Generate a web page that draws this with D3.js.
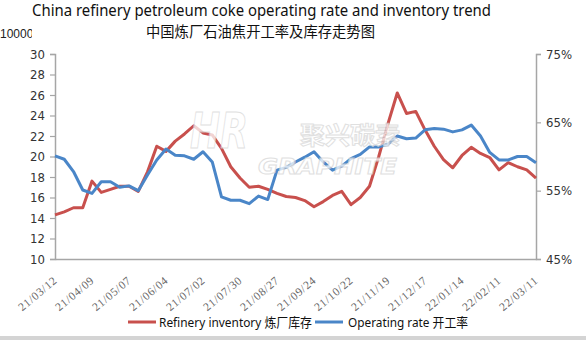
<!DOCTYPE html>
<html>
<head>
<meta charset="utf-8">
<script src="https://cdn.jsdelivr.net/npm/d3@7/dist/d3.min.js"></script>
<style>
  html, body { margin: 0; padding: 0; background: #fff; }
  svg { display: block; }
</style>
</head>
<body>
<svg id="chart" width="586" height="340"></svg>
<script>
// ---- data ----
const dates = [
  "21/03/12","21/03/19","21/03/26","21/04/02","21/04/09","21/04/16","21/04/23","21/04/30",
  "21/05/07","21/05/14","21/05/21","21/05/28","21/06/04","21/06/11","21/06/18","21/06/25",
  "21/07/02","21/07/09","21/07/16","21/07/23","21/07/30","21/08/06","21/08/13","21/08/20",
  "21/08/27","21/09/03","21/09/10","21/09/17","21/09/24","21/10/01","21/10/08","21/10/15",
  "21/10/22","21/10/29","21/11/05","21/11/12","21/11/19","21/11/26","21/12/03","21/12/10",
  "21/12/17","21/12/24","21/12/31","22/01/07","22/01/14","22/01/21","22/01/28","22/02/04",
  "22/02/11","22/02/18","22/02/25","22/03/04","22/03/11"
];
// Refinery inventory (10000 t), left axis
const inventory = [
  14.3, 14.6, 15.0, 15.0, 17.6, 16.5, 16.8, 17.1,
  17.1, 16.6, 18.5, 21.0, 20.5, 21.5, 22.2, 23.0,
  22.3, 22.1, 20.8, 19.0, 17.9, 17.0, 17.1, 16.8,
  16.4, 16.1, 16.0, 15.7, 15.1, 15.6, 16.2, 16.6,
  15.3, 16.0, 17.1, 20.0, 23.2, 26.2, 24.2, 24.4,
  22.6, 21.0, 19.7, 18.9, 20.1, 20.9, 20.3, 19.9,
  18.7, 19.4, 19.0, 18.7, 17.9
];
// Operating rate (%), right axis
const operatingRate = [
  60.1, 59.6, 57.8, 55.1, 54.6, 56.3, 56.3, 55.5,
  55.7, 55.0, 57.3, 59.5, 61.1, 60.2, 60.1, 59.6,
  60.7, 59.2, 54.1, 53.6, 53.6, 53.1, 54.2, 53.7,
  58.0, 58.4, 59.2, 59.9, 60.7, 59.2, 58.0, 58.6,
  59.7, 60.3, 61.4, 61.4, 61.8, 63.0, 62.6, 62.7,
  63.9, 64.1, 64.0, 63.6, 63.9, 64.6, 63.0, 60.6,
  59.5, 59.5, 60.0, 60.0, 59.1
];
const leftTicks = [10, 12, 14, 16, 18, 20, 22, 24, 26, 28, 30];
const rightTicks = [45, 55, 65, 75];
const labelEvery = 4;
const titleEn = "China refinery petroleum coke operating rate and inventory trend";
const titleZh = "中国炼厂石油焦开工率及库存走势图";
const unitLabel = "10000";
const legendNames = ["Refinery inventory 炼厂库存", "Operating rate 开工率"];

// ---- layout ----
const svg = d3.select("#chart");
const L = 55, R = 536, T = 54, B = 259;
const RED = "#c8504d", BLUE = "#4a86c8", AXIS = "#a6a6a6";
const numFont = "'Liberation Sans Narrow','DejaVu Sans Condensed','Liberation Sans',sans-serif";

const x = d3.scalePoint().domain(dates).range([L, R]);
const yL = d3.scaleLinear().domain([10, 30]).range([B, T]);
const yR = d3.scaleLinear().domain([45, 75]).range([B, T]);

function fitText(sel, w, mode) {
  const n = sel.node();
  const len = n.getComputedTextLength();
  if (len > 0) sel.attr("textLength", w).attr("lengthAdjust", mode || "spacingAndGlyphs");
}

// titles
svg.append("text").attr("x", 32).attr("y", 16).attr("font-family", "'Noto Sans','Open Sans',sans-serif")
  .attr("font-size", 16).attr("fill", "#111").text(titleEn).call(fitText, 459);
svg.append("text").attr("x", 146).attr("y", 37).attr("font-family", "'Noto Sans CJK SC',sans-serif")
  .attr("font-size", 14.3).attr("fill", "#111").text(titleZh).call(fitText, 229);

// unit label (clipped at right like the reference)
const defs = svg.append("defs");
defs.append("clipPath").attr("id", "uclip").append("rect").attr("x", 0).attr("y", 20).attr("width", 32).attr("height", 25);
svg.append("g").attr("clip-path", "url(#uclip)").append("text").attr("x", 0).attr("y", 38)
  .attr("font-family", "'Liberation Sans',sans-serif").attr("font-size", 12).attr("fill", "#222").text(unitLabel);

// axes
const axL = svg.append("g").attr("transform", `translate(${L},0)`)
  .call(d3.axisLeft(yL).tickValues(leftTicks).tickSize(5).tickPadding(5));
const axR = svg.append("g").attr("transform", `translate(${R},0)`)
  .call(d3.axisRight(yR).tickValues(rightTicks).tickSize(5).tickPadding(5).tickFormat(d => d + "%"));
[axL, axR].forEach(a => {
  a.select(".domain").attr("stroke", AXIS).attr("stroke-width", 1.5);
  a.selectAll(".tick line").attr("stroke", AXIS).attr("stroke-width", 1.2);
  a.selectAll(".tick text").attr("font-family", numFont).attr("font-size", 13).attr("fill", "#333");
});
const axB = svg.append("g").attr("transform", `translate(0,${B})`)
  .call(d3.axisBottom(x).tickValues(dates.filter((d, i) => i % labelEvery === 0)).tickSize(0).tickPadding(0));
axB.select(".domain").attr("stroke", AXIS).attr("stroke-width", 1.5);
axB.selectAll(".tick text")
  .attr("font-family", "'Liberation Serif','DejaVu Serif',serif").attr("font-size", 11.5).attr("fill", "#666")
  .attr("text-anchor", "end").attr("dy", 0)
  .attr("transform", "translate(2,23) rotate(-40)")
  .each(function () { d3.select(this).call(fitText, 46, "spacing"); });

// lines
const lineInv = d3.line().x((d, i) => x(dates[i])).y(d => yL(d));
const lineRate = d3.line().x((d, i) => x(dates[i])).y(d => yR(d));
svg.append("path").datum(inventory).attr("d", lineInv).attr("fill", "none")
  .attr("stroke", RED).attr("stroke-width", 3).attr("stroke-linejoin", "round");
svg.append("path").datum(operatingRate).attr("d", lineRate).attr("fill", "none")
  .attr("stroke", BLUE).attr("stroke-width", 3).attr("stroke-linejoin", "round");

// watermark
const wm = svg.append("g").attr("opacity", 0.75);
wm.append("text").attr("x", 190).attr("y", 148).attr("font-family", "'DejaVu Sans',sans-serif")
  .attr("font-weight", "bold").attr("font-style", "italic").attr("font-size", 50)
  .attr("fill", "#fff").attr("stroke", "#d6d6d6").attr("stroke-width", 1).text("HR").call(fitText, 58);
wm.append("text").attr("x", 300).attr("y", 144).attr("font-family", "'Noto Sans CJK SC',sans-serif")
  .attr("font-weight", "bold").attr("font-size", 24)
  .attr("fill", "#fff").attr("stroke", "#d6d6d6").attr("stroke-width", 1).text("聚兴碳素").call(fitText, 100);
wm.append("text").attr("x", 258).attr("y", 174).attr("font-family", "'DejaVu Sans',sans-serif")
  .attr("font-weight", "bold").attr("font-style", "italic").attr("font-size", 21)
  .attr("fill", "#fff").attr("stroke", "#d6d6d6").attr("stroke-width", 1).text("GRAPHITE").call(fitText, 139);

// legend
const lg = svg.append("g");
const legendItems = [
  { name: legendNames[0], color: RED, x1: 128, x2: 156, tx: 159, tw: 153 },
  { name: legendNames[1], color: BLUE, x1: 315, x2: 343, tx: 348, tw: 120 }
];
legendItems.forEach(it => {
  lg.append("line").attr("x1", it.x1).attr("x2", it.x2).attr("y1", 322).attr("y2", 322)
    .attr("stroke", it.color).attr("stroke-width", 3);
  lg.append("text").attr("x", it.tx).attr("y", 327).attr("font-family", "'Noto Sans','Noto Sans CJK SC',sans-serif")
    .attr("font-size", 13).attr("fill", "#111").text(it.name).call(fitText, it.tw);
});

// bottom border strip
svg.append("rect").attr("x", 0).attr("y", 336).attr("width", 586).attr("height", 4).attr("fill", "#d4d4d4");
</script>
</body>
</html>
